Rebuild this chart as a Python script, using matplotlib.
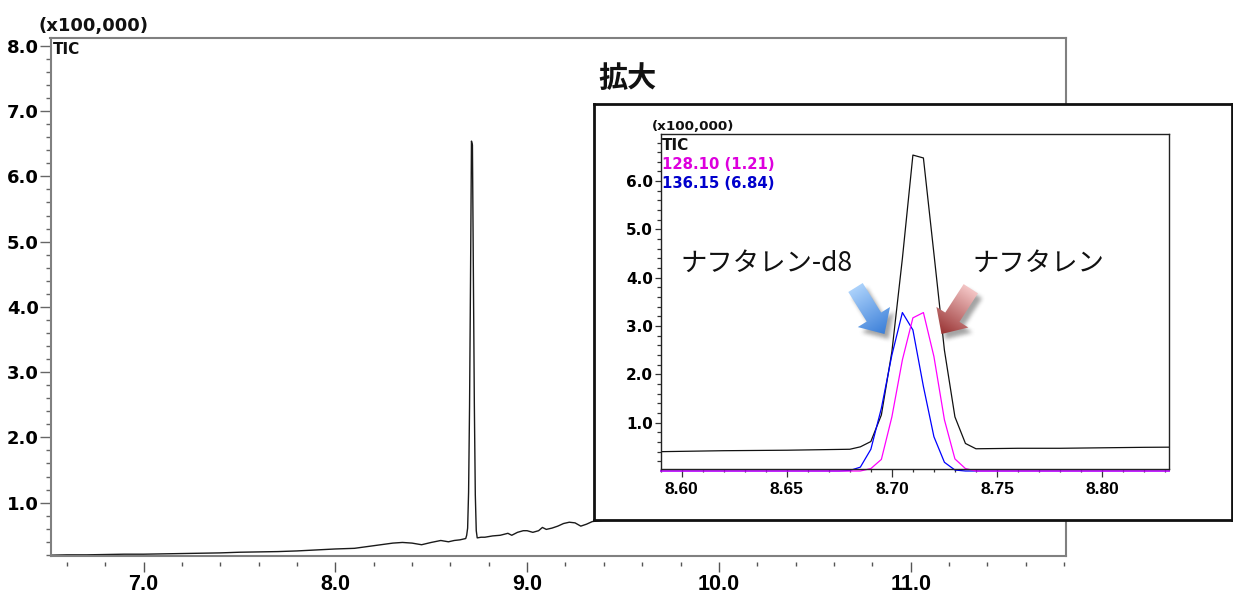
import numpy as np
import matplotlib
matplotlib.use("Agg")
import matplotlib.pyplot as plt
from matplotlib.ticker import MultipleLocator
from matplotlib.lines import Line2D
from matplotlib.path import Path
from matplotlib.patches import PathPatch

plt.rcParams['font.family'] = ['DejaVu Sans', 'Noto Sans CJK JP']

W, H, DPI = 1233, 594, 100

# ---------------------------------------------------------------------------
# Data: retention time [min], intensity [x100,000]
# ---------------------------------------------------------------------------
tic_time = [6.52, 6.60, 6.70, 6.80, 6.90, 7.00, 7.10, 7.20, 7.30, 7.40, 7.50,
            7.60, 7.70, 7.80, 7.90, 8.00, 8.05, 8.10, 8.15, 8.20, 8.25, 8.30,
            8.35, 8.40, 8.45, 8.50, 8.55, 8.59, 8.62, 8.65, 8.68, 8.685, 8.69,
            8.695, 8.700, 8.705, 8.710, 8.715, 8.720, 8.725, 8.730, 8.735,
            8.740, 8.76, 8.78, 8.80, 8.82, 8.86, 8.90, 8.92, 8.95, 8.98, 9.00,
            9.03, 9.06, 9.08, 9.10, 9.13, 9.16, 9.19, 9.22, 9.25, 9.28, 9.31,
            9.34, 9.40]
tic_intensity = [0.195, 0.20, 0.20, 0.205, 0.21, 0.21, 0.215, 0.22, 0.225,
                 0.23, 0.24, 0.245, 0.25, 0.26, 0.275, 0.29, 0.295, 0.30, 0.32,
                 0.34, 0.36, 0.38, 0.39, 0.38, 0.355, 0.39, 0.42, 0.40, 0.42,
                 0.43, 0.45, 0.50, 0.61, 1.16, 2.47, 4.40, 6.54, 6.48, 4.50,
                 2.50, 1.12, 0.57, 0.46, 0.47, 0.47, 0.48, 0.49, 0.50, 0.53,
                 0.50, 0.545, 0.57, 0.57, 0.545, 0.57, 0.62, 0.59, 0.61, 0.64,
                 0.68, 0.70, 0.69, 0.64, 0.67, 0.71, 0.73]

# m/z 128.10 (naphthalene)
mz128_time = [8.590, 8.685, 8.690, 8.695, 8.700, 8.705, 8.710, 8.715, 8.720,
              8.725, 8.730, 8.735, 8.740, 8.832]
mz128_intensity = [0.0, 0.0, 0.05, 0.24, 1.12, 2.30, 3.17, 3.28, 2.37, 1.06,
                   0.25, 0.05, 0.0, 0.0]

# m/z 136.15 (naphthalene-d8)
mz136_time = [8.590, 8.675, 8.680, 8.685, 8.690, 8.695, 8.700, 8.705, 8.710,
              8.715, 8.720, 8.725, 8.730, 8.735, 8.832]
mz136_intensity = [0.0, 0.0, 0.01, 0.08, 0.45, 1.30, 2.40, 3.28, 2.92, 1.75,
                   0.71, 0.18, 0.02, 0.0, 0.0]

main_xticks = [7.0, 8.0, 9.0, 10.0, 11.0]
main_yticks = [1.0, 2.0, 3.0, 4.0, 5.0, 6.0, 7.0, 8.0]
zoom_xticks = [8.60, 8.65, 8.70, 8.75, 8.80]
zoom_yticks = [1.0, 2.0, 3.0, 4.0, 5.0, 6.0]

label_128 = "128.10 (1.21)"
label_136 = "136.15 (6.84)"


def px_rect(x0, y0, x1, y1):
    """Pixel box (origin top-left) -> figure-fraction rect."""
    return [x0 / W, 1 - y1 / H, (x1 - x0) / W, (y1 - y0) / H]


fig = plt.figure(figsize=(W / DPI, H / DPI), dpi=DPI)
fig.patch.set_facecolor('white')

# ---------------------------------------------------------------------------
# Full chromatogram
# ---------------------------------------------------------------------------
GREY = '#808080'
ax = fig.add_axes(px_rect(50.5, 38, 1066, 555.5))
ax.plot(tic_time, tic_intensity, color='#1a1a1a', lw=1.0)
ax.set_xlim(6.515, 11.81)
ax.set_ylim(0.19, 8.12)
for s in ax.spines.values():
    s.set_color(GREY)
    s.set_linewidth(1.5)
# tick marks sit a little below the frame line
ax.spines['bottom'].set_position(('outward', 5))
ax.spines['bottom'].set_visible(False)
ax.add_line(Line2D([0, 1], [0, 0], transform=ax.transAxes, color=GREY,
                   lw=1.5, clip_on=False))

ax.set_xticks(main_xticks, labels=[f"{v:.1f}" for v in main_xticks],
              fontfamily='Liberation Sans', fontweight='bold', fontsize=15.5)
ax.xaxis.set_minor_locator(MultipleLocator(0.2))
ax.set_yticks(main_yticks, labels=[f"{v:.1f}" for v in main_yticks],
              fontfamily='DejaVu Sans', fontweight='bold', fontsize=13)
ax.yaxis.set_minor_locator(MultipleLocator(0.2))
ax.tick_params(axis='x', which='major', length=7.2, width=1.0, color='#555555',
               pad=1)
ax.tick_params(axis='x', which='minor', length=3.2, width=1.0, color='#555555')
ax.tick_params(axis='y', which='major', length=8, width=1.0, color='#666666',
               pad=0.5)
ax.tick_params(axis='y', which='minor', length=3.6, width=1.0, color='#666666')

# ---------------------------------------------------------------------------
# Enlarged view
# ---------------------------------------------------------------------------
box = fig.add_axes(px_rect(593.5, 104, 1231.5, 520), zorder=5)
box.set_facecolor('white')
box.set_xticks([])
box.set_yticks([])
for s in box.spines.values():
    s.set_color('#111111')
    s.set_linewidth(2)

ins = fig.add_axes(px_rect(660.7, 134.3, 1169.3, 469.3), zorder=6)
ins.set_facecolor('white')
ins.plot(tic_time, tic_intensity, color='#111111', lw=0.9)
ins.plot(mz136_time, mz136_intensity, color='#0000ff', lw=0.9, clip_on=False)
ins.plot(mz128_time, mz128_intensity, color='#ff00ff', lw=0.9, clip_on=False)
ins.set_xlim(8.590, 8.832)
ins.set_ylim(0.035, 6.97)
for s in ins.spines.values():
    s.set_color('#222222')
    s.set_linewidth(1.0)
ins.set_xticks(zoom_xticks, labels=[f"{v:.2f}" for v in zoom_xticks],
               fontfamily='Liberation Sans', fontweight='bold', fontsize=12.5)
ins.xaxis.set_minor_locator(MultipleLocator(0.01))
ins.set_yticks(zoom_yticks, labels=[f"{v:.1f}" for v in zoom_yticks],
               fontfamily='DejaVu Sans', fontweight='bold', fontsize=11)
ins.yaxis.set_minor_locator(MultipleLocator(0.2))
ins.tick_params(axis='x', which='major', length=6, width=0.9, color='#333333',
                pad=3)
ins.tick_params(axis='x', which='minor', length=2.4, width=0.9, color='#333333')
ins.tick_params(axis='y', which='major', length=4.5, width=0.9, color='#333333',
                pad=1)
ins.tick_params(axis='y', which='minor', length=3, width=0.9, color='#333333')

# ---------------------------------------------------------------------------
# Overlay in pixel coordinates for annotations
# ---------------------------------------------------------------------------
ov = fig.add_axes([0, 0, 1, 1], zorder=10)
ov.axis('off')


def box_blur(a, r):
    k = np.ones(2 * r + 1) / (2 * r + 1)
    a = np.apply_along_axis(lambda m: np.convolve(m, k, mode='same'), 0, a)
    a = np.apply_along_axis(lambda m: np.convolve(m, k, mode='same'), 1, a)
    return a


def arrow_pts(tail, tip, shaft_w, head_w, head_len):
    tail = np.asarray(tail, float)
    tip = np.asarray(tip, float)
    d = tip - tail
    L = np.hypot(*d)
    u = d / L
    n = np.array([-u[1], u[0]])
    base = tip - u * head_len
    return np.array([tail + n * shaft_w / 2, base + n * shaft_w / 2,
                     base + n * head_w / 2, tip, base - n * head_w / 2,
                     base - n * shaft_w / 2, tail - n * shaft_w / 2])


def gradient_arrow(tail, tip, c_tail, c_tip, shadow_off=(4, 5)):
    pts = arrow_pts(tail, tip, 17, 38, 20)
    m = 10
    x0, y0 = np.floor(pts.min(axis=0)) - m
    x1, y1 = np.ceil(pts.max(axis=0)) + m
    xs = np.arange(x0, x1) + 0.5
    ys = np.arange(y0, y1) + 0.5
    X, Y = np.meshgrid(xs, ys)

    # soft drop shadow
    sp = Path(pts + np.asarray(shadow_off))
    mask = sp.contains_points(np.c_[X.ravel(), Y.ravel()]).reshape(X.shape)
    mask = box_blur(box_blur(mask.astype(float), 2), 2)
    shadow = np.zeros(X.shape + (4,))
    shadow[..., :3] = 0.35
    shadow[..., 3] = mask * 0.55
    ov.imshow(shadow, extent=(x0, x1, y1, y0), origin='upper',
              interpolation='bilinear', aspect='auto', zorder=1)

    # body filled with a gradient running tail -> tip
    tail = np.asarray(tail, float)
    tip = np.asarray(tip, float)
    d = tip - tail
    L2 = d @ d
    t = np.clip(((X - tail[0]) * d[0] + (Y - tail[1]) * d[1]) / L2, 0, 1)
    c0 = np.array(matplotlib.colors.to_rgb(c_tail))
    c1 = np.array(matplotlib.colors.to_rgb(c_tip))
    rgb = c0 * (1 - t[..., None]) + c1 * t[..., None]
    im = ov.imshow(rgb, extent=(x0, x1, y1, y0), origin='upper',
                   interpolation='bilinear', aspect='auto', zorder=2)
    patch = PathPatch(Path(pts), facecolor='none', edgecolor='none')
    ov.add_patch(patch)
    im.set_clip_path(patch)


gradient_arrow((855.5, 287.5), (884.5, 334), '#acd2fb', '#3a7ed8')
gradient_arrow((970.8, 288.7), (941.5, 334), '#f4c6c6', '#983232')

# main chart captions
ov.text(39, 26.5, "(x100,000)", fontsize=13, fontweight='bold',
        ha='left', va='center', color='#111111')
ov.text(53, 42, "TIC", fontsize=11, fontweight='bold', ha='left', va='top',
        color='#111111')

# enlarged view captions
ov.text(598, 78, "拡大", fontfamily='Noto Sans CJK JP', fontsize=21,
        fontweight='bold', ha='left', va='center', color='#111111')
ov.text(651.7, 126.5, "(x100,000)", fontsize=9.7, fontweight='bold',
        ha='left', va='center', color='#111111')
ov.text(662, 145, "TIC", fontsize=11, fontweight='bold', ha='left',
        va='center', color='#111111')
ov.text(662, 164.5, label_128, fontsize=10.7, fontweight='bold', ha='left',
        va='center', color='#dd00dd')
ov.text(662, 183.5, label_136, fontsize=10.7, fontweight='bold', ha='left',
        va='center', color='#0000cc')
ov.text(680, 263, "ナフタレン-d8", fontfamily='Noto Sans CJK JP', fontsize=19,
        ha='left', va='center', color='#111111')
ov.text(972, 263, "ナフタレン", fontfamily='Noto Sans CJK JP', fontsize=19,
        ha='left', va='center', color='#111111')

ov.set_xlim(0, W)
ov.set_ylim(H, 0)

fig.savefig("out.png", dpi=DPI, facecolor='white')
